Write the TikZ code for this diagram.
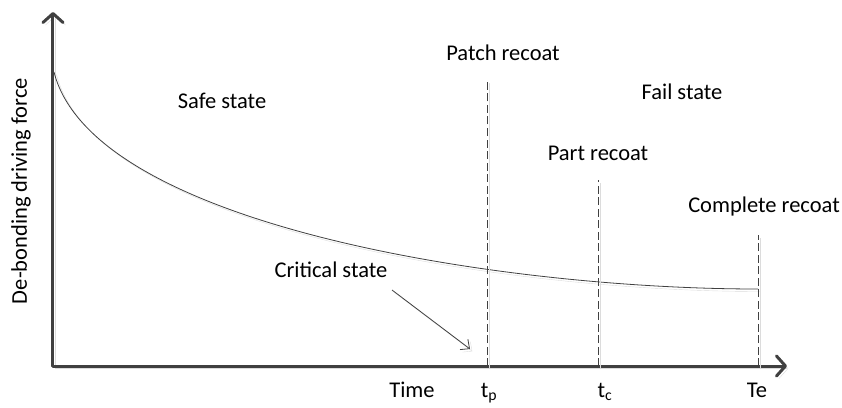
\documentclass[tikz,border=0pt]{standalone}
\usepackage{fontspec}
\setmainfont{Carlito}
\usetikzlibrary{math,arrows.meta}

\definecolor{axisgray}{HTML}{404040}
\definecolor{shadegray}{HTML}{DCDCDC}

\begin{document}
\begin{tikzpicture}[x=1bp,y=1bp,
    every node/.style={font=\fontsize{22.5bp}{27bp}\selectfont, inner sep=0pt},
    dropshade/.style={preaction={draw=shadegray, transform canvas={shift={(2.5bp,-2.5bp)}}}},
    axis/.style={draw=axisgray, line width=3bp, line cap=round,
      -{Straight Barb[length=9bp,width=20bp,round]}, dropshade},
    recoat/.style={draw=axisgray, line width=0.9bp, dash pattern=on 8bp off 3.5bp, dropshade},
    label/.style={anchor=base}]
  \tikzmath{
    real \tp, \tc, \te;
    \tp=434;
    \tc=545;
    \te=705;
  }
  \useasboundingbox (-53,-41) rectangle (789,366);

  \coordinate (O) at (0,0);
  \coordinate (Y) at (0,354);
  \coordinate (X) at (734,0);
  \coordinate (F0) at (1,294);
  \coordinate (Fe) at (\te,77);

  % axes
  \draw[axis] (O) -- (Y);
  \draw[axis] (O) -- (X);
  \node[rotate=90] (force) at (-32,175) {De-bonding driving force};

  % de-bonding force over time
  \draw[draw=axisgray, line width=0.8bp, dropshade] (F0) .. controls (40,140) and (450,77) .. (Fe);

  % recoat limits
  \draw[recoat] (\tp,0) -- (\tp,286);
  \draw[recoat] (\tc,0) -- (\tc,186);
  \draw[recoat] (\te,0) -- (\te,131);

  \node[label] (safe) at (169,258) {Safe state};
  \node[label] (fail) at (629,267) {Fail state};
  \node[label] (patch) at (450,306) {Patch recoat};
  \node[label] (part) at (545,206) {Part recoat};
  \node[label] (complete) at (711,154) {Complete recoat};
  \node[label] (critical) at (278,89) {Critical state};

  \coordinate (C0) at (339,76);
  \coordinate (C1) at (417,17);
  \draw[draw=axisgray, line width=0.8bp, -{Straight Barb[length=7bp,width=13bp]}, dropshade] (C0) -- (C1);

  % time marks
  \node[label] (time) at (359,-31) {Time};
  \node[label] (tpl) at (436,-31) {t\textsubscript{p}};
  \node[label] (tcl) at (552,-31) {t\textsubscript{c}};
  \node[label] (tel) at (704,-31) {Te};
\end{tikzpicture}
\end{document}
